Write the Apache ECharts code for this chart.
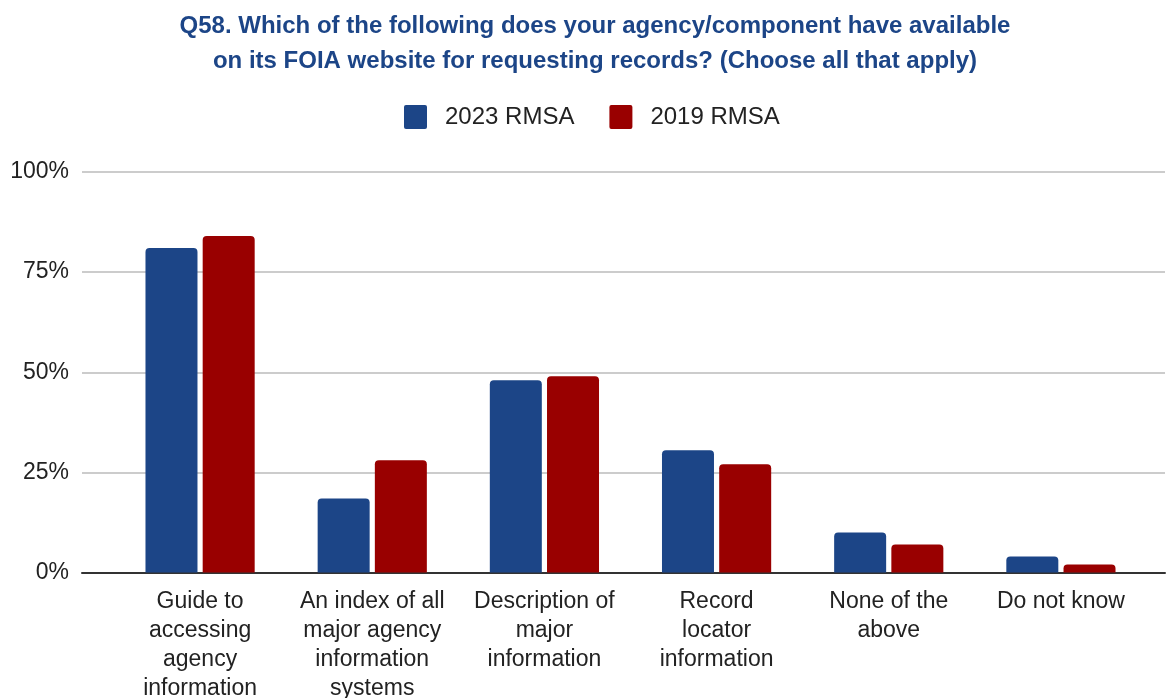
<!DOCTYPE html>
<html>
<head>
<meta charset="utf-8">
<script src="https://cdn.jsdelivr.net/npm/echarts@6/dist/echarts.min.js"></script>
<style>
  html, body { margin: 0; padding: 0; background: #fff; }
  #chart { width: 1167px; height: 698px; }
</style>
</head>
<body>
<div id="chart"></div>
<script>
// Survey question and answer options
const titleText = 'Q58. Which of the following does your agency/component have available\non its FOIA website for requesting records? (Choose all that apply)';
const categories = [
  'Guide to\naccessing\nagency\ninformation',
  'An index of all\nmajor agency\ninformation\nsystems',
  'Description of\nmajor\ninformation',
  'Record\nlocator\ninformation',
  'None of the\nabove',
  'Do not know'
];
// Share of respondents (%)
const rmsa2023 = [81, 18.5, 48, 30.5, 10, 4];
const rmsa2019 = [84, 28, 49, 27, 7, 2];
const seriesNames = ['2023 RMSA', '2019 RMSA'];
const seriesColors = ['#1c4587', '#990000'];
const yTicks = { min: 0, max: 100, interval: 25 };

const chart = echarts.init(document.getElementById('chart'), null, { renderer: 'canvas' });
const FONT = 'Liberation Sans, Arial, sans-serif';

chart.setOption({
  animation: false,
  backgroundColor: '#ffffff',
  title: {
    text: titleText,
    left: 590,
    textAlign: 'center',
    top: 4,
    textStyle: {
      fontFamily: FONT,
      fontWeight: 'bold',
      fontSize: 24,
      lineHeight: 35,
      color: '#1c4587'
    }
  },
  legend: {
    data: seriesNames,
    left: 404,
    top: 105,
    padding: 0,
    itemWidth: 23,
    itemHeight: 24,
    itemGap: 35,
    icon: 'path://M2,0 L21,0 Q23,0 23,2 L23,22 Q23,24 21,24 L2,24 Q0,24 0,22 L0,2 Q0,0 2,0 Z',
    textStyle: {
      fontFamily: FONT,
      fontSize: 24,
      color: '#222',
      padding: [0, 0, 0, 13]
    }
  },
  grid: [
    // full-width grid carrying the gridlines, y labels and baseline
    { left: 82, right: 2, top: 172, bottom: 125.5, outerBoundsMode: 'none' },
    // inset grid carrying the bars and category labels
    { left: 114, right: 20, top: 172, bottom: 125.5, outerBoundsMode: 'none' }
  ],
  xAxis: [
    {
      gridIndex: 0,
      type: 'category',
      data: categories,
      axisLabel: { show: false },
      axisTick: { show: false },
      axisLine: { show: true, lineStyle: { color: '#333', width: 2 } }
    },
    {
      gridIndex: 1,
      type: 'category',
      data: categories,
      axisTick: { show: false },
      axisLine: { show: false },
      axisLabel: {
        interval: 0,
        margin: 15,
        fontFamily: FONT,
        fontSize: 23,
        lineHeight: 29,
        color: '#222',
        align: 'center'
      }
    }
  ],
  yAxis: [
    {
      gridIndex: 0,
      type: 'value',
      min: yTicks.min,
      max: yTicks.max,
      interval: yTicks.interval,
      axisLine: { show: false },
      axisTick: { show: false },
      splitLine: { lineStyle: { color: '#cccccc', width: 2 } },
      axisLabel: {
        margin: 13,
        fontFamily: FONT,
        fontSize: 23,
        color: '#222',
        padding: [4, 0, 0, 0],
        formatter: '{value}%'
      }
    },
    {
      gridIndex: 1,
      type: 'value',
      min: yTicks.min,
      max: yTicks.max,
      interval: yTicks.interval,
      show: false,
      splitLine: { show: false }
    }
  ],
  series: [
    {
      name: seriesNames[0],
      type: 'bar',
      xAxisIndex: 1,
      yAxisIndex: 1,
      data: rmsa2023,
      barWidth: 52,
      barGap: '10%',
      itemStyle: { color: seriesColors[0], borderRadius: [4, 4, 0, 0] }
    },
    {
      name: seriesNames[1],
      type: 'bar',
      xAxisIndex: 1,
      yAxisIndex: 1,
      data: rmsa2019,
      barWidth: 52,
      barGap: '10%',
      itemStyle: { color: seriesColors[1], borderRadius: [4, 4, 0, 0] }
    }
  ]
});
</script>
</body>
</html>
